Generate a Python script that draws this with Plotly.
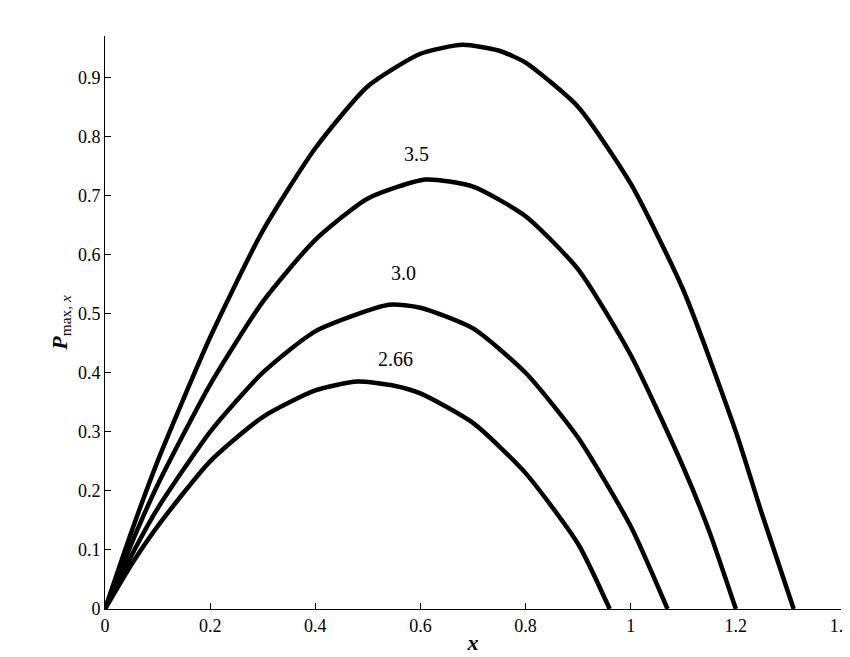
import plotly.graph_objects as go

x40 = [0,0.05,0.1,0.2,0.3,0.4,0.5,0.6,0.68,0.75,0.8,0.9,1.0,1.1,1.2,1.25,1.31]
y40 = [0,0.13,0.25,0.46,0.64,0.78,0.885,0.94,0.955,0.945,0.925,0.85,0.72,0.54,0.30,0.16,0]
x35 = [0,0.05,0.1,0.2,0.3,0.4,0.5,0.61,0.7,0.8,0.9,1.0,1.1,1.15,1.2]
y35 = [0,0.11,0.21,0.38,0.52,0.625,0.695,0.727,0.715,0.665,0.575,0.43,0.24,0.13,0]
x30 = [0,0.05,0.1,0.2,0.3,0.4,0.54,0.6,0.7,0.8,0.9,1.0,1.07]
y30 = [0,0.09,0.17,0.30,0.40,0.47,0.515,0.51,0.475,0.40,0.29,0.14,0]
x266 = [0,0.05,0.1,0.2,0.3,0.4,0.48,0.55,0.6,0.7,0.8,0.9,0.96]
y266 = [0,0.075,0.14,0.25,0.325,0.37,0.385,0.378,0.365,0.315,0.23,0.11,0]

labels = ["τ = 4.0", "3.5", "3.0", "2.66"]
label_x = [0.51, 0.593, 0.567, 0.552]
label_y = [0.995, 0.771, 0.569, 0.423]

fig = go.Figure()
for xs, ys in [(x40, y40), (x35, y35), (x30, y30), (x266, y266)]:
    fig.add_trace(go.Scatter(x=xs, y=ys, mode="lines", line=dict(color="black", width=4.5, shape="spline", smoothing=0.6), showlegend=False))
for t, lx, ly in zip(labels, label_x, label_y):
    fig.add_annotation(x=lx, y=ly, text=t, showarrow=False, font=dict(size=20, color="black", family="Liberation Serif"))

axis = dict(showline=True, linecolor="black", linewidth=1, ticks="inside", ticklen=6, tickcolor="black",
            showgrid=False, zeroline=False, automargin=False,
            tickfont=dict(size=18, family="Liberation Serif", color="black"))
fig.update_layout(
    width=850, height=657, plot_bgcolor="white", paper_bgcolor="white",
    margin=dict(l=97, r=17, t=28, b=56),
    font=dict(family="Liberation Serif", color="black"),
    xaxis=dict(axis, range=[0, 1.4], dtick=0.2, title=dict(text="<b><i>x</i></b>", font=dict(size=22), standoff=0)),
    yaxis=dict(axis, range=[0, 0.97], dtick=0.1, tickformat=".1~f",
               title=dict(text="<b><i>P</i></b><sub>max, <i>x</i></sub>", font=dict(size=22), standoff=4)),
)
fig.write_html("out.html")
